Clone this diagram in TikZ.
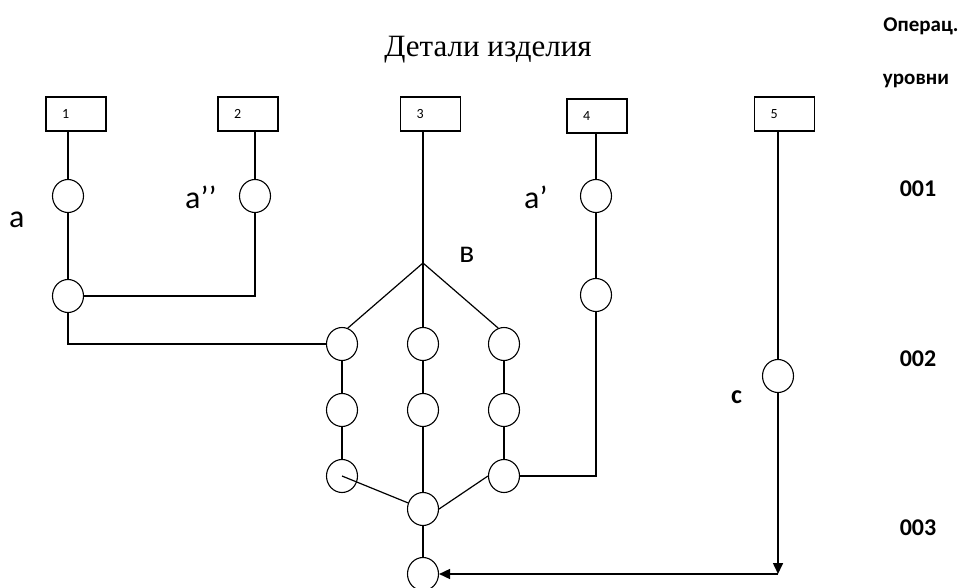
\documentclass[tikz,border=0pt]{standalone}
\usepackage{fontspec}
\setmainfont{Carlito}
\newfontfamily\titlefont{Liberation Serif}
\usetikzlibrary{shapes.geometric,arrows.meta}
\begin{document}
\begin{tikzpicture}[x=1pt,y=-1pt,
  op/.style={draw, ellipse, minimum width=31pt, minimum height=33pt, inner sep=0pt, line width=1.1pt},
  part/.style={draw, rectangle, minimum height=34pt, text width=28pt, inner xsep=16pt, inner ysep=0pt, align=left, line width=1.2pt, font=\fontsize{14}{14}\selectfont},
  conn/.style={line width=1.2pt},
  arr/.style={line width=1.6pt, -{Triangle[length=11pt,width=10pt]}},
  lbl/.style={font=\fontsize{32}{32}\selectfont, inner sep=0pt},
  clbl/.style={font=\bfseries\fontsize{26}{26}\selectfont, inner sep=0pt},
  lvl/.style={font=\bfseries\fontsize{24}{24}\selectfont, inner sep=0pt},
  hdr/.style={font=\bfseries\fontsize{21}{21}\selectfont, inner sep=0pt},
]
\useasboundingbox (0,0) rectangle (963,588);

% title and level headers
\node[font=\titlefont\fontsize{31}{31}\selectfont, inner sep=0pt, anchor=base] (title) at (488,57) {Детали изделия};
\node[hdr, anchor=base] (hop) at (921,32) {Операц.};
\node[hdr, anchor=base] (hlev) at (916,85) {уровни};
\node[lvl] (l1) at (918,189) {001};
\node[lvl] (l2) at (918,359) {002};
\node[lvl] (l3) at (918,528) {003};

% parts
\node[part] (b1) at (76,114) {1};
\node[part] (b2) at (248,114) {2};
\node[part] (b3) at (430.5,114) {3};
\node[part] (b4) at (597,116) {4};
\node[part] (b5) at (784.5,114) {5};

% operations
\node[op] (c1) at (68,196) {};
\node[op] (c2) at (255,196) {};
\node[op] (c1b) at (68,296) {};
\node[op] (h1) at (342,344) {};
\node[op] (hm1) at (423,344) {};
\node[op] (h3) at (504,344) {};
\node[op] (h4) at (342,410) {};
\node[op] (hm2) at (423,410) {};
\node[op] (h6) at (504,410) {};
\node[op] (h7) at (342,476) {};
\node[op] (hm3) at (423,509) {};
\node[op] (h9) at (504,476) {};
\node[op] (bot) at (423,574) {};
\node[op] (c4) at (596,196) {};
\node[op] (c4b) at (596,295) {};
\node[op] (c5) at (778,376) {};
\coordinate (B) at (423,263);
\coordinate (corner) at (778,574);

% labels
\node[lbl, anchor=base west] (la) at (9,227) {a};
\node[lbl, anchor=base west] (la2) at (185,208) {a’{}’};
\node[lbl, anchor=base west] (la1) at (524,208) {a’};
\node[lbl, anchor=base west] (lb) at (459,262) {в};
\node[clbl, anchor=base west] (lc) at (731,403) {c};

% connectors
\draw[conn] (b1.south -| c1) -- (c1) -- (c1b);
\draw[conn] (b2.south -| c2) -- (c2);
\draw[conn] (c2) |- (c1b);
\draw[conn] (c1b) |- (h1);
\draw[conn] (b3.south -| B) -- (B) -- (hm1);
\draw[conn] (B) -- (h1.70);
\draw[conn] (B) -- (h3.110);
\draw[conn] (h1) -- (h4) -- (h7);
\draw[conn] (hm1) -- (hm2) -- (hm3) -- (bot);
\draw[conn] (h3) -- (h6) -- (h9);
\draw[conn] (h7.center) -- (hm3);
\draw[conn] (h9.west) -- (hm3.east);
\draw[conn] (h9) -| (c4b);
\draw[conn] (b4.south -| c4) -- (c4) -- (c4b);
\draw[conn] (b5.south -| c5) -- (c5);
\draw[arr] (c5) -- (corner);
\draw[arr] (corner) -- (bot);
\end{tikzpicture}
\end{document}
